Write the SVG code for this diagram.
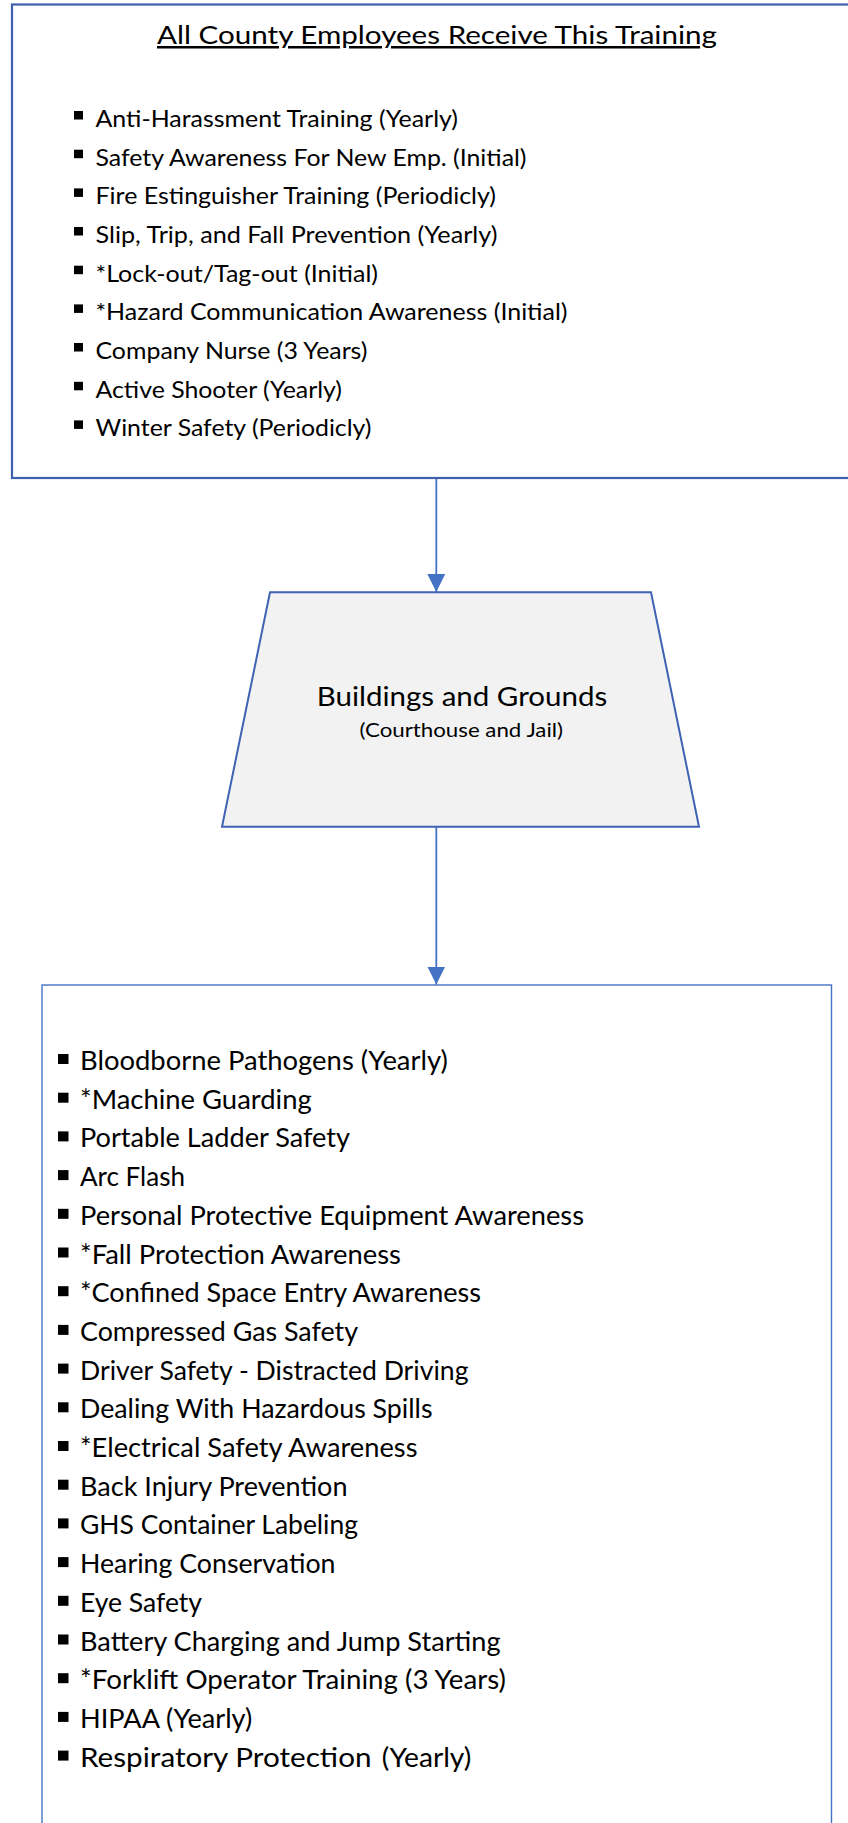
<svg xmlns="http://www.w3.org/2000/svg" width="848" height="1823" viewBox="0 0 848 1823">
<style>
  text { font-family: Lato, "Open Sans", "Liberation Sans", sans-serif; fill: #000; }
  .title { font-size: 25px; text-decoration: underline; }
  .ti { font-size: 23px; }
  .bi { font-size: 26.5px; }
  .head { font-size: 26.5px; }
  .sub { font-size: 19px; }
  .b1 { fill: #000; }
  .conn { stroke: #4472C4; stroke-width: 1.8; fill: none; }
</style>
<defs>
  <marker id="arr" markerUnits="userSpaceOnUse" markerWidth="20" markerHeight="20" refX="18" refY="9" orient="auto">
    <path d="M0,0 L18,9 L0,18 Z" fill="#4472C4"/>
  </marker>
</defs>
<rect width="848" height="1823" fill="#fff"/>

<g id="all-employees">
  <rect x="12" y="4.5" width="900" height="473.5" fill="#fff" stroke="#3F60AE" stroke-width="2.2"/>
  <text class="title" x="157" y="44" textLength="560" lengthAdjust="spacingAndGlyphs">All County Employees Receive This Training</text>
  <g class="b1">
    <rect x="74" y="111" width="9" height="8.5"/>
    <rect x="74" y="149.7" width="9" height="8.5"/>
    <rect x="74" y="188.4" width="9" height="8.5"/>
    <rect x="74" y="227" width="9" height="8.5"/>
    <rect x="74" y="265.7" width="9" height="8.5"/>
    <rect x="74" y="304.4" width="9" height="8.5"/>
    <rect x="74" y="343" width="9" height="8.5"/>
    <rect x="74" y="381.8" width="9" height="8.5"/>
    <rect x="74" y="420.4" width="9" height="8.5"/>
  </g>
  <text class="ti" x="95.5" y="127" textLength="362.5" lengthAdjust="spacingAndGlyphs">Anti-Harassment Training (Yearly)</text>
  <text class="ti" x="95.5" y="165.7" textLength="431" lengthAdjust="spacingAndGlyphs">Safety Awareness For New Emp. (Initial)</text>
  <text class="ti" x="95.5" y="204.4" textLength="400.5" lengthAdjust="spacingAndGlyphs">Fire Estinguisher Training (Periodicly)</text>
  <text class="ti" x="95.5" y="243" textLength="402" lengthAdjust="spacingAndGlyphs">Slip, Trip, and Fall Prevention (Yearly)</text>
  <text class="ti" x="95.5" y="281.7" textLength="282.5" lengthAdjust="spacingAndGlyphs">*Lock-out/Tag-out (Initial)</text>
  <text class="ti" x="95.5" y="320.4" textLength="472" lengthAdjust="spacingAndGlyphs">*Hazard Communication Awareness (Initial)</text>
  <text class="ti" x="95.5" y="359" textLength="272" lengthAdjust="spacingAndGlyphs">Company Nurse (3 Years)</text>
  <text class="ti" x="95.5" y="397.8" textLength="246.5" lengthAdjust="spacingAndGlyphs">Active Shooter (Yearly)</text>
  <text class="ti" x="95.5" y="436.4" textLength="276" lengthAdjust="spacingAndGlyphs">Winter Safety (Periodicly)</text>
</g>

<g id="connectors">
  <line class="conn" x1="436.3" y1="479" x2="436.3" y2="592" marker-end="url(#arr)"/>
  <line class="conn" x1="436.3" y1="827" x2="436.3" y2="984.5" marker-end="url(#arr)"/>
</g>

<g id="buildings-grounds">
  <polygon points="270,592.3 651,592.3 699,826.7 222,826.7" fill="#F2F2F2" stroke="#3F62B5" stroke-width="2"/>
  <text class="head" x="316.7" y="705.7" textLength="290.5" lengthAdjust="spacingAndGlyphs">Buildings and Grounds</text>
  <text class="sub" x="359.5" y="736.7" textLength="203.5" lengthAdjust="spacingAndGlyphs">(Courthouse and Jail)</text>
</g>

<g id="bg-training">
  <rect x="42" y="985" width="789.5" height="900" fill="#fff" stroke="#4472C4" stroke-width="1.4"/>
  <g class="b1">
    <rect x="58" y="1054" width="10.5" height="10"/>
    <rect x="58" y="1092.7" width="10.5" height="10"/>
    <rect x="58" y="1131.4" width="10.5" height="10"/>
    <rect x="58" y="1170.1" width="10.5" height="10"/>
    <rect x="58" y="1208.8" width="10.5" height="10"/>
    <rect x="58" y="1247.5" width="10.5" height="10"/>
    <rect x="58" y="1286.2" width="10.5" height="10"/>
    <rect x="58" y="1324.9" width="10.5" height="10"/>
    <rect x="58" y="1363.6" width="10.5" height="10"/>
    <rect x="58" y="1402.3" width="10.5" height="10"/>
    <rect x="58" y="1441" width="10.5" height="10"/>
    <rect x="58" y="1479.7" width="10.5" height="10"/>
    <rect x="58" y="1518.4" width="10.5" height="10"/>
    <rect x="58" y="1557.1" width="10.5" height="10"/>
    <rect x="58" y="1595.8" width="10.5" height="10"/>
    <rect x="58" y="1634.5" width="10.5" height="10"/>
    <rect x="58" y="1673.2" width="10.5" height="10"/>
    <rect x="58" y="1711.9" width="10.5" height="10"/>
    <rect x="58" y="1750.6" width="10.5" height="10"/>
  </g>
  <text class="bi" x="80" y="1070" textLength="367.8" lengthAdjust="spacingAndGlyphs">Bloodborne Pathogens (Yearly)</text>
  <text class="bi" x="80" y="1108.7" textLength="231.7" lengthAdjust="spacingAndGlyphs">*Machine Guarding</text>
  <text class="bi" x="80" y="1147.4" textLength="270" lengthAdjust="spacingAndGlyphs">Portable Ladder Safety</text>
  <text class="bi" x="80" y="1186.1" textLength="105" lengthAdjust="spacingAndGlyphs">Arc Flash</text>
  <text class="bi" x="80" y="1224.8" textLength="504" lengthAdjust="spacingAndGlyphs">Personal Protective Equipment Awareness</text>
  <text class="bi" x="80" y="1263.5" textLength="321" lengthAdjust="spacingAndGlyphs">*Fall Protection Awareness</text>
  <text class="bi" x="80" y="1302.2" textLength="401" lengthAdjust="spacingAndGlyphs">*Confined Space Entry Awareness</text>
  <text class="bi" x="80" y="1340.9" textLength="278" lengthAdjust="spacingAndGlyphs">Compressed Gas Safety</text>
  <text class="bi" x="80" y="1379.6" textLength="388.5" lengthAdjust="spacingAndGlyphs">Driver Safety - Distracted Driving</text>
  <text class="bi" x="80" y="1418.3" textLength="352.5" lengthAdjust="spacingAndGlyphs">Dealing With Hazardous Spills</text>
  <text class="bi" x="80" y="1457" textLength="337.5" lengthAdjust="spacingAndGlyphs">*Electrical Safety Awareness</text>
  <text class="bi" x="80" y="1495.7" textLength="267.5" lengthAdjust="spacingAndGlyphs">Back Injury Prevention</text>
  <text class="bi" x="80" y="1534.4" textLength="278" lengthAdjust="spacingAndGlyphs">GHS Container Labeling</text>
  <text class="bi" x="80" y="1573.1" textLength="255.5" lengthAdjust="spacingAndGlyphs">Hearing Conservation</text>
  <text class="bi" x="80" y="1611.8" textLength="122" lengthAdjust="spacingAndGlyphs">Eye Safety</text>
  <text class="bi" x="80" y="1650.5" textLength="420.5" lengthAdjust="spacingAndGlyphs">Battery Charging and Jump Starting</text>
  <text class="bi" x="80" y="1689.2" textLength="426" lengthAdjust="spacingAndGlyphs">*Forklift Operator Training (3 Years)</text>
  <text class="bi" x="80" y="1727.9" textLength="172.2" lengthAdjust="spacingAndGlyphs">HIPAA (Yearly)</text>
  <text class="bi" x="80" y="1766.6" font-size="28.5" textLength="291.5" lengthAdjust="spacingAndGlyphs">Respiratory Protection</text>
  <text class="bi" x="381.8" y="1766.6" textLength="89.5" lengthAdjust="spacingAndGlyphs">(Yearly)</text>
</g>
</svg>
